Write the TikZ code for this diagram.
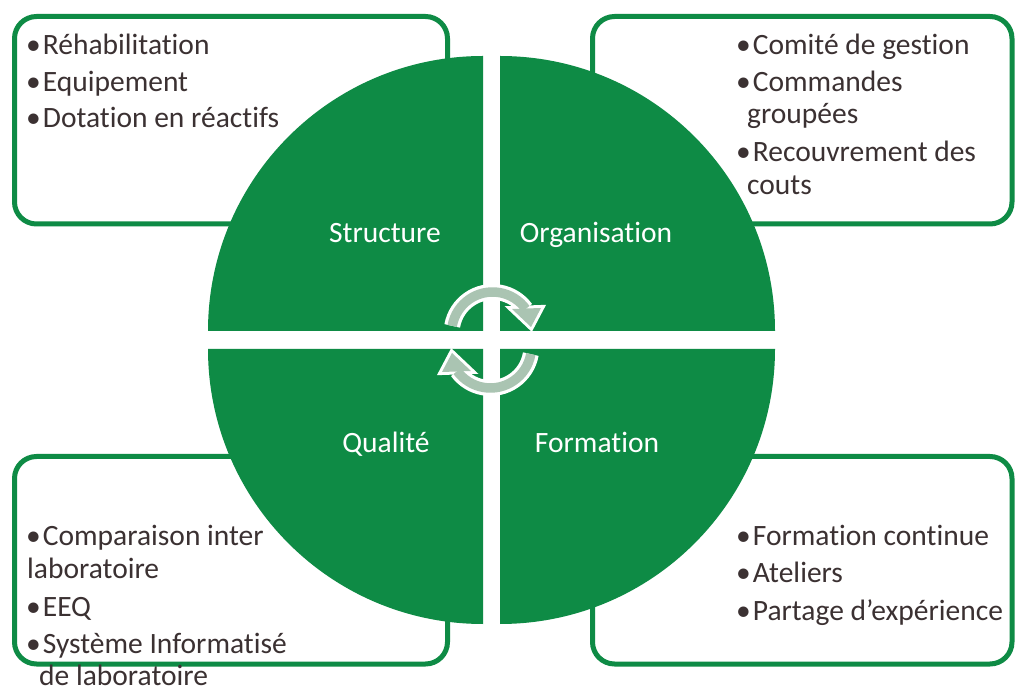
\documentclass[tikz,border=0pt]{standalone}
\usepackage{fontspec}
\setmainfont{Carlito}[Ligatures=NoCommon]
\definecolor{quadgreen}{RGB}{14,139,69}
\definecolor{bodytext}{RGB}{59,49,50}
\definecolor{cyclegray}{RGB}{170,196,178}

% bullet followed by a small gap
\newcommand{\itemdot}{•\kern2pt}

\tikzset{
  cyclearrow/.pic={
    % white halo under the shaft and the head
    \draw[white, line width=16pt] (170:41) arc[start angle=170, end angle=36, radius=41];
    \filldraw[white, line width=6pt, line join=miter] (19.4,24) -- (48.4,25) -- (38.4,6) -- cycle;
    % grey shaft and head
    \draw[cyclegray, line width=9.5pt] (170:41) arc[start angle=170, end angle=36, radius=41];
    \fill[cyclegray] (19.4,24) -- (48.4,25) -- (38.4,6) -- cycle;
  }
}

\begin{document}
\begin{tikzpicture}[x=1pt,y=1pt,
  panel/.style={draw=quadgreen, line width=5pt, rounded corners=22pt},
  quad/.style={fill=quadgreen},
  item/.style={anchor=base west, inner sep=0pt, text=bodytext,
    font=\fontsize{29.5}{35}\selectfont},
  qlabel/.style={anchor=base, inner sep=0pt, text=white,
    font=\fontsize{29.5}{35}\selectfont}]

\useasboundingbox (0,0) rectangle (1015,686);
\fill[white] (0,0) rectangle (1015,686);

% text panels behind the quadrants
\draw[panel] (14.5,462) rectangle (447.5,669.5);
\draw[panel] (592.5,462) rectangle (1012,669.5);
\draw[panel] (14.5,22) rectangle (447.5,229.5);
\draw[panel] (592.5,22) rectangle (1012,229.5);

% four quarter discs
\fill[quad] (483,355) -- (208,355) arc[start angle=180, end angle=90, radius=275] -- cycle;
\fill[quad] (500,355) -- (500,630) arc[start angle=90, end angle=0, radius=275] -- cycle;
\fill[quad] (483,337) -- (483,62) arc[start angle=270, end angle=180, radius=275] -- cycle;
\fill[quad] (500,337) -- (775,337) arc[start angle=0, end angle=-90, radius=275] -- cycle;

% quadrant titles
\node[qlabel] (structure) at (385,443) {Structure};
\node[qlabel] (organisation) at (596,443) {Organisation};
\node[qlabel] (qualite) at (386,233) {Qualité};
\node[qlabel] (formation) at (597,233) {Formation};

% cycle arrows in the middle
\pic at (492.6,353) {cyclearrow};
\pic[rotate=180] at (490.4,339) {cyclearrow};

% Structure items
\node[item] (s1) at (26,631) {\itemdot Réhabilitation};
\node[item] (s2) at (26,594) {\itemdot Equipement};
\node[item] (s3) at (26,558) {\itemdot Dotation en réactifs};

% Organisation items
\node[item] (o1) at (736,631) {\itemdot Comité de gestion};
\node[item] (o2) at (736,594) {\itemdot Commandes};
\node[item] (o2b) at (747,562) {groupées};
\node[item] (o3) at (736,524) {\itemdot Recouvrement des};
\node[item] (o3b) at (747,491) {couts};

% Qualité items
\node[item] (q1) at (26,140) {\itemdot Comparaison inter};
\node[item] (q1b) at (27,108) {laboratoire};
\node[item] (q2) at (26,70) {\itemdot EEQ};
\node[item] (q3) at (26,33) {\itemdot Système Informatisé};
\node[item] (q3b) at (39,1) {de laboratoire};

% Formation items
\node[item] (f1) at (736,140) {\itemdot Formation continue};
\node[item] (f2) at (736,103) {\itemdot Ateliers};
\node[item] (f3) at (736,66) {\itemdot Partage d’expérience};

\end{tikzpicture}
\end{document}
